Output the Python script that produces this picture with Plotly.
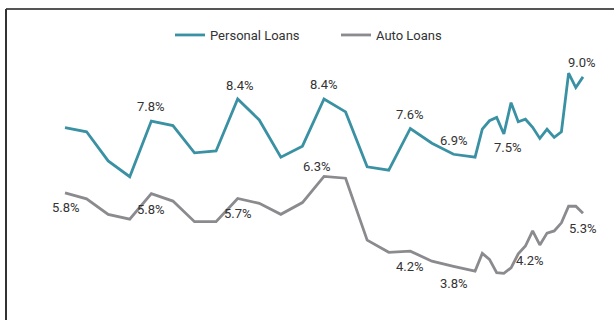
import plotly.graph_objects as go

# month offsets (quarterly, then monthly)
months = [0, 3, 6, 9, 12, 15, 18, 21, 24, 27, 30, 33, 36, 39, 42, 45, 48, 51, 54, 57,
          58, 59, 60, 61, 62, 63, 64, 65, 66, 67, 68, 69, 70, 71, 72]

personal = [7.62, 7.51, 6.72, 6.29, 7.8, 7.68, 6.94, 6.99, 8.4, 7.83, 6.82, 7.12, 8.4, 8.05,
            6.56, 6.47, 7.6, 7.20, 6.9, 6.82, 7.58, 7.81, 7.90, 7.45, 8.30, 7.78, 7.85, 7.63,
            7.33, 7.58, 7.36, 7.51, 9.10, 8.71, 9.0]

auto = [5.85, 5.69, 5.27, 5.14, 5.83, 5.63, 5.07, 5.07, 5.7, 5.57, 5.27, 5.59, 6.3, 6.25,
        4.57, 4.24, 4.27, 4.0, 3.86, 3.73, 4.21, 4.05, 3.69, 3.67, 3.82, 4.2, 4.41, 4.82,
        4.44, 4.76, 4.82, 5.04, 5.49, 5.49, 5.3]

# (index, text, xshift, yshift)
personal_labels = [(4, "7.8%", 0, 15), (8, "8.4%", 2, 13), (12, "8.4%", 0, 14),
                   (16, "7.6%", 0, 14), (18, "6.9%", 0, 14), (23, "7.5%", 4, -13),
                   (34, "9.0%", -1, 14)]
auto_labels = [(0, "5.8%", 1, -15), (4, "5.8%", 0, -16), (8, "5.7%", 0, -15),
               (12, "6.3%", -7, 10), (16, "4.2%", 0, -15), (18, "3.8%", 0, -17),
               (25, "4.2%", 12, -7), (34, "5.3%", 0, -15)]

TEAL = "#3a91a3"
GRAY = "#8b8b8f"
TXT = "#333333"
FONT = "Roboto"

fig = go.Figure()
fig.add_trace(go.Scatter(x=months, y=personal, mode="lines", name="Personal Loans",
                         line=dict(color=TEAL, width=2.8)))
fig.add_trace(go.Scatter(x=months, y=auto, mode="lines", name="Auto Loans",
                         line=dict(color=GRAY, width=2.8)))

annotations = []
for series, labels in ((personal, personal_labels), (auto, auto_labels)):
    for i, t, dx, dy in labels:
        annotations.append(dict(x=months[i], y=series[i], text=t, showarrow=False,
                                xshift=dx, yshift=dy, xanchor="center", yanchor="middle",
                                font=dict(family=FONT, size=13, color=TXT)))

L, R, T, B = 58, 24, 50, 20
W, H = 614, 320
pw, ph = W - L - R, H - T - B

def px_x(p):
    return (p - L) / pw

def px_y(p):
    return (H - B - p) / ph

shapes = [
    dict(type="line", xref="paper", yref="paper", x0=px_x(6), x1=px_x(614),
         y0=px_y(9), y1=px_y(9), line=dict(color="#555555", width=2)),
    dict(type="line", xref="paper", yref="paper", x0=px_x(6), x1=px_x(6),
         y0=px_y(9), y1=px_y(322), line=dict(color="#333333", width=2)),
]

fig.update_layout(
    width=W, height=H,
    margin=dict(l=L, r=R, t=T, b=B),
    paper_bgcolor="white", plot_bgcolor="white",
    xaxis=dict(range=[-0.973, 72.973], visible=False, fixedrange=True),
    yaxis=dict(range=[2.946, 9.729], visible=False, fixedrange=True),
    showlegend=True,
    legend=dict(orientation="h", x=px_x(170), xanchor="left", y=px_y(35), yanchor="middle",
                font=dict(family=FONT, size=13, color=TXT), entrywidth=121,
                entrywidthmode="pixels", bgcolor="rgba(0,0,0,0)"),
    annotations=annotations,
    shapes=shapes,
    font=dict(family=FONT),
)

fig.write_html("out.html")
